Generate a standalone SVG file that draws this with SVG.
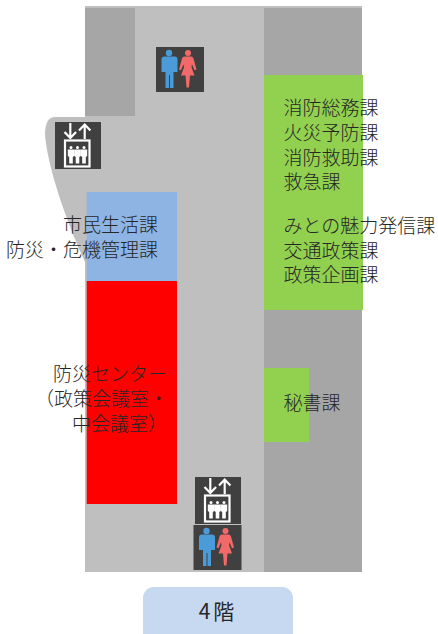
<svg xmlns="http://www.w3.org/2000/svg" width="438" height="634" viewBox="0 0 438 634">
<style>
text{font-family:"Noto Sans CJK JP","Noto Sans",sans-serif;font-size:19px;font-weight:300;fill:#262626}
.g{fill:#bfbfbf}.d{fill:#a6a6a6}.gr{fill:#92d050}.w{fill:#fff}.ws{fill:none;stroke:#fff}
</style>
<defs>
<symbol id="toilet" viewBox="0 0 48 45" overflow="visible">
<rect width="48" height="45" fill="#404040"/>
<g fill="#4a9bd8"><circle cx="13" cy="6" r="3.200"/><path d="M7.500 9.500h11q3 0 3 3v12.500h-3l-1 0v16h-3.500v-13h-1v13h-3.500v-16h-1h-3v-12.500q0-3 3-3z"/></g>
<g fill="#f2696a"><circle cx="32" cy="6" r="3"/><path d="M29 9.500h6q2 0 2.500 2l3 11-2 .8-2.500-6-.5 3 3 8.200h-4.500l-1 12h-2.500l-1-12h-4.500l3-8.200-.5-3-2.500 6-2-.8 3-11q.5-2 2.500-2z"/></g>
</symbol>
<symbol id="lift" viewBox="0 0 46 47" overflow="visible">
<rect width="46" height="47" fill="#404040"/>
<path class="ws" stroke-width="2.200" d="M15.300 1v14.500M9.500 10l5.800 6 5.800-6M29.700 17v-14.500M24 8.500l5.700-6 5.700 6"/>
<rect x="10" y="18.500" width="24.500" height="26" class="ws" stroke-width="2.200"/>
<g class="w"><circle cx="16" cy="25.500" r="1.500"/><circle cx="22.500" cy="25.500" r="1.500"/><circle cx="29" cy="25.500" r="1.500"/>
<path d="M12.800 27.500h6.400v6.500l-1.400 1v6.500h-3.600v-6.500l-1.400-1zM19.300 27.500h6.400v6.500l-1.400 1v6.500h-3.600v-6.500l-1.400-1zM25.800 27.500h6.400v6.500l-1.400 1v6.500h-3.600v-6.500l-1.400-1z"/></g>
</symbol>
</defs>
<g id="floor">
<path class="g" d="M85 6H362V572H85V262C68 225 48 170 45 135Q45 117 55 117H85Z"/>
<rect class="d" x="85" y="8" width="50" height="108"/>
<rect class="d" x="264" y="8" width="98" height="564"/>
</g>
<g id="shimin"><rect x="86.700" y="192" width="90.300" height="89" fill="#8eb4e3"/>
<text x="158" y="232" text-anchor="end">市民生活課</text><text x="158" y="257" text-anchor="end">防災・危機管理課</text></g>
<g id="bosai"><rect x="86.700" y="281" width="90.300" height="223" fill="#f00"/>
<text x="53" y="381">防災センター</text><text x="35" y="406">（政策会議室・</text><text x="72" y="431">中会議室）</text></g>
<g id="shobo"><rect class="gr" x="264" y="75" width="99" height="235"/>
<text x="283.500" y="115">消防総務課</text><text x="283.500" y="140">火災予防課</text><text x="283.500" y="165">消防救助課</text><text x="283.500" y="189">救急課</text>
<text x="283.500" y="233">みとの魅力発信課</text><text x="283.500" y="258">交通政策課</text><text x="283.500" y="282">政策企画課</text></g>
<g id="hisho"><rect class="gr" x="264" y="368" width="45" height="74"/><text x="283.500" y="410">秘書課</text></g>
<use id="toilet-top" href="#toilet" x="156" y="47" width="48" height="45"/>
<use id="lift-left" href="#lift" x="55" y="122" width="46" height="47"/>
<use id="lift-bottom" href="#lift" x="195" y="477" width="46" height="47"/>
<use id="toilet-bottom" href="#toilet" x="193" y="525" width="49" height="45"/>
<g id="floor-label"><rect x="143" y="587" width="150" height="60" rx="11" fill="#c6d9f1"/><text x="218" y="619" text-anchor="middle" style="font-size:21px;font-weight:400;letter-spacing:3px">4階</text></g>
<g id="connectors"/>
</svg>
